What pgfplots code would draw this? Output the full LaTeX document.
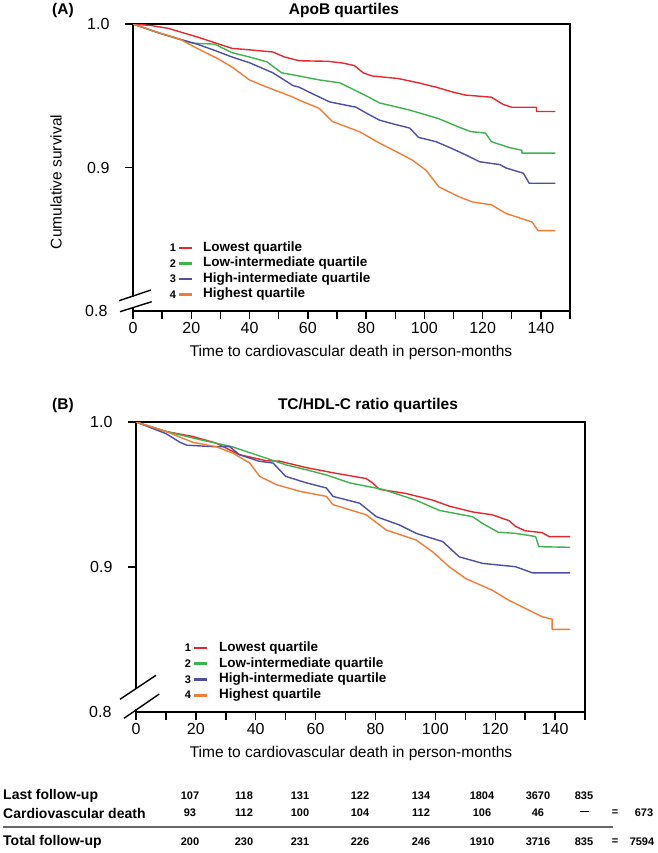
\documentclass[border=0pt]{standalone}
\usepackage{pgfplots}
\pgfplotsset{compat=1.18}
\usepackage{fontspec}
\setmainfont{Liberation Sans}
\definecolor{cred}{RGB}{230,40,45}
\definecolor{cgreen}{RGB}{60,180,75}
\definecolor{cblue}{RGB}{75,80,165}
\definecolor{corange}{RGB}{240,125,55}
\newcommand\fs[1]{\fontsize{#1bp}{#1bp}\selectfont}
\pgfplotsset{km/.style={
  scale only axis, xmin=0, xmax=150, ymin=0.8, ymax=1,
  xtick={0,10,...,150},
  xticklabels={0,{},20,{},40,{},60,{},80,{},100,{},120,{},140,{}},
  ytick={0.9,1.0}, yticklabels={0.9,1.0},
  tick align=outside, xtick pos=left, ytick pos=left,
  major tick length=8bp,
  tick style={black, line width=1.4bp},
  axis line style={line width=1.4bp},
  ticklabel style={font=\fs{16}},
  yticklabel style={xshift=-12bp},
  every axis plot/.append style={line width=1.4bp, no marks, line join=round},
}}
\begin{document}
\begin{tikzpicture}
\useasboundingbox (0,0) rectangle (658bp,-853bp);
% ---------------- Panel A ----------------
\begin{axis}[km, at={(133bp,-311bp)}, anchor=south west, width=437bp, height=287bp]
\addplot[cred] coordinates {(0,1.0)(6,0.999)(12,0.997)(16,0.9946)(22,0.991)(28,0.987)(34,0.983)(40,0.982)(48,0.9805)(52,0.977)(57,0.9744)(67,0.974)(72,0.9728)(76,0.971)(79,0.966)(82,0.9638)(91,0.962)(98,0.959)(104,0.956)(109,0.953)(114,0.9505)(123,0.949)(127,0.944)(130,0.942)(138.5,0.942)(138.5,0.939)(145,0.939)};
\addplot[cgreen] coordinates {(0,1.0)(9,0.9937)(15,0.990)(20.5,0.9866)(28,0.986)(34,0.980)(40,0.977)(46,0.9736)(51,0.966)(57,0.9638)(64,0.961)(71,0.959)(76,0.954)(80,0.950)(84.6,0.945)(95,0.940)(100,0.937)(105,0.934)(112,0.928)(116,0.925)(121,0.924)(123,0.918)(129,0.914)(133.5,0.912)(133.5,0.910)(145,0.910)};
\addplot[cblue] coordinates {(0,1.0)(9,0.9937)(15,0.990)(22,0.986)(27.5,0.982)(34,0.977)(40,0.973)(48,0.966)(55,0.957)(57,0.956)(62,0.951)(67.5,0.9457)(76.6,0.942)(80,0.938)(84.6,0.933)(90,0.930)(95,0.9275)(98,0.921)(104,0.918)(108.6,0.914)(114,0.909)(119,0.904)(126,0.902)(128,0.8997)(134,0.896)(136,0.889)(145,0.889)};
\addplot[corange] coordinates {(0,1.0)(8,0.9945)(16,0.9895)(23,0.982)(29,0.976)(34,0.970)(40,0.961)(46,0.956)(55,0.949)(57,0.947)(63,0.942)(64,0.941)(68.5,0.932)(77.7,0.925)(84.6,0.917)(91.4,0.910)(96,0.905)(100.6,0.898)(105,0.8865)(112,0.8795)(116.5,0.876)(123,0.874)(128,0.868)(132.5,0.865)(137,0.862)(139,0.856)(145,0.856)};
\end{axis}
% ---------------- Panel B ----------------
\begin{axis}[km, at={(136bp,-712bp)}, anchor=south west, width=449bp, height=290bp]
\addplot[cred] coordinates {(0,1.0)(10,0.9935)(19,0.990)(26.7,0.9855)(34.5,0.9775)(43.6,0.9733)(48,0.973)(57,0.9685)(65.8,0.965)(76.9,0.961)(79,0.958)(81.4,0.9535)(90,0.9508)(99,0.9462)(104.6,0.942)(112.4,0.938)(119,0.936)(124.6,0.932)(126.8,0.928)(130,0.925)(135.7,0.9237)(138,0.921)(145,0.921)};
\addplot[cgreen] coordinates {(0,1.0)(10,0.9935)(21,0.988)(32,0.983)(43.6,0.975)(50,0.9705)(57,0.967)(63.6,0.9635)(71.4,0.958)(82.5,0.9535)(93.6,0.946)(101.4,0.939)(112.4,0.9347)(115.8,0.930)(121,0.924)(126.8,0.9232)(133.5,0.921)(134.6,0.914)(145,0.9136)};
\addplot[cblue] coordinates {(0,1.0)(10,0.992)(14.7,0.986)(17,0.984)(25.8,0.983)(31.3,0.983)(34.5,0.9775)(41,0.973)(45.8,0.9717)(50,0.9625)(57,0.958)(63.6,0.9545)(65.8,0.9487)(74.7,0.944)(80.3,0.9347)(88,0.929)(93.6,0.9232)(102.5,0.9175)(108,0.907)(115.8,0.9025)(126.8,0.9002)(132.4,0.896)(145,0.896)};
\addplot[corange] coordinates {(0,1.0)(10,0.9935)(19,0.986)(26.7,0.983)(32.4,0.9785)(38,0.9717)(41.3,0.9625)(46.9,0.9568)(54.7,0.9522)(63.6,0.9487)(65.8,0.943)(76.9,0.936)(83.6,0.9255)(93.6,0.9186)(99.1,0.9105)(104.6,0.9002)(110.2,0.892)(119,0.884)(124.6,0.877)(130,0.8715)(135.7,0.8657)(139,0.864)(139,0.857)(145,0.857)};
\end{axis}
\begin{scope}[x=1bp,y=-1bp]
% titles
\node[font=\fs{15.5}\bfseries] at (63,10) {(A)};
\node[font=\fs{15.5}\bfseries] at (344,10) {ApoB quartiles};
\node[font=\fs{15.5}\bfseries] at (63,405) {(B)};
\node[font=\fs{15.5}\bfseries] at (368,405) {TC/HDL-C ratio quartiles};
% axis labels
\node[font=\fs{15.5}, rotate=90] at (56,182) {Cumulative survival};
\node[font=\fs{15.5}] at (351,352) {Time to cardiovascular death in person-months};
\node[font=\fs{15.5}] at (351,753) {Time to cardiovascular death in person-months};
\node[font=\fs{16}, anchor=east] at (111,311) {0.8};
\node[font=\fs{16}, anchor=east] at (115,712) {0.8};
% axis breaks
\fill[white] (128,297) rectangle (138,308);
\draw[line width=1.4bp] (119,300.7)--(151,290);
\draw[line width=1.4bp] (120,311.7)--(151.7,301.7);
\fill[white] (131,689) rectangle (141,709);
\draw[line width=1.4bp] (120,699.3)--(156,675.3);
\draw[line width=1.4bp] (124,718.3)--(159.3,694);
% legends
\foreach \n/\c/\t [count=\i from 0] in {1/cred/Lowest quartile,2/cgreen/Low-intermediate quartile,3/cblue/High-intermediate quartile,4/corange/Highest quartile}{
  \node[font=\fs{11}\bfseries] at (173,248+15.5*\i) {\n};
  \draw[\c, line width=2.8bp] (179,248+15.5*\i)--(192,248+15.5*\i);
  \node[font=\fs{13.5}\bfseries, anchor=west, inner sep=0pt] at (203,248+15.5*\i) {\t};
  \node[font=\fs{11}\bfseries] at (188,648+15.7*\i) {\n};
  \draw[\c, line width=2.8bp] (194,648+15.7*\i)--(207,648+15.7*\i);
  \node[font=\fs{13.5}\bfseries, anchor=west, inner sep=0pt] at (219,648+15.7*\i) {\t};
}
% table
\node[font=\fs{14}\bfseries, anchor=west, inner sep=0pt] at (3,796) {Last follow-up};
\node[font=\fs{14}\bfseries, anchor=west, inner sep=0pt] at (3,813) {Cardiovascular death};
\node[font=\fs{14}\bfseries, anchor=west, inner sep=0pt] at (3,842) {Total follow-up};
\foreach \x/\a/\b/\c in {190/107/93/200,244/118/112/230,300/131/100/231,360/122/104/226,421/134/112/246,482/1804/106/1910,538/3670/46/3716,584/835/{\rule[3bp]{9bp}{1.8bp}}/835}{
  \node[font=\fs{11}\bfseries] at (\x,796) {\a};
  \node[font=\fs{11}\bfseries] at (\x,813) {\b};
  \node[font=\fs{11}\bfseries] at (\x,842) {\c};
}
\node[font=\fs{11}\bfseries] at (615,813) {=};
\node[font=\fs{11}\bfseries] at (615,842) {=};
\node[font=\fs{11}\bfseries] at (644,813) {673};
\node[font=\fs{11}\bfseries] at (642,842) {7594};
\draw[gray!80!black, line width=1.5bp] (3,827)--(613,827);
\end{scope}
\end{tikzpicture}
\end{document}
